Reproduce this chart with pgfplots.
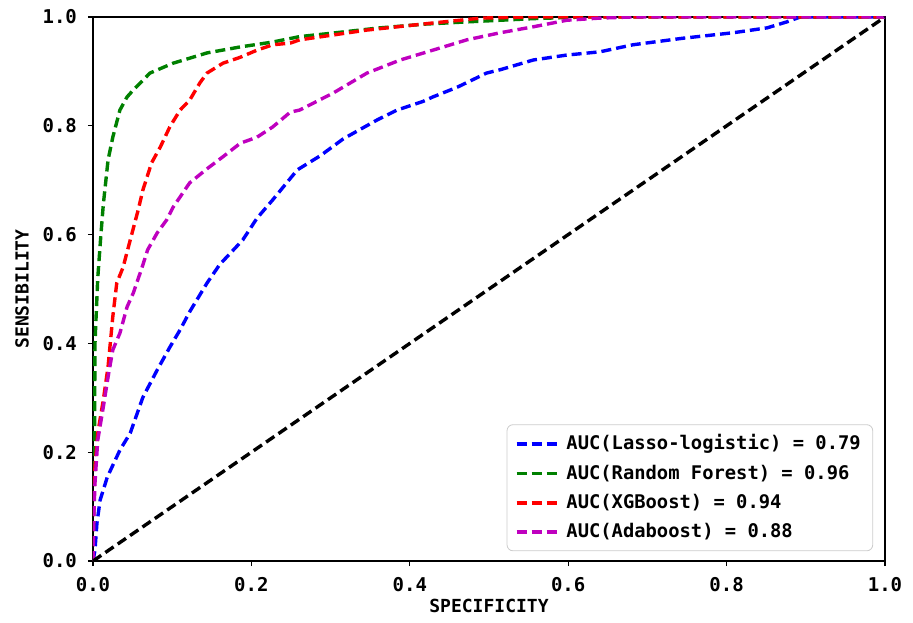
\documentclass[border=0pt]{standalone}
\usepackage{fontspec}
\setmainfont{DejaVu Sans Mono}
\usepackage{pgfplots}
\pgfplotsset{compat=1.18}
\usetikzlibrary{calc}

\definecolor{mplblue}{RGB}{0,0,255}
\definecolor{mplgreen}{RGB}{0,128,0}
\definecolor{mplred}{RGB}{255,0,0}
\definecolor{mplmag}{RGB}{191,0,191}

\begin{document}
\begin{tikzpicture}
\begin{axis}[
    scale only axis,
    width=396pt, height=272pt,
    xmin=0, xmax=1, ymin=0, ymax=1,
    axis line style={line width=0.75pt},
    xtick={0,0.2,0.4,0.6,0.8,1},
    ytick={0,0.2,0.4,0.6,0.8,1},
    xticklabels={0.0,0.2,0.4,0.6,0.8,1.0},
    yticklabels={0.0,0.2,0.4,0.6,0.8,1.0},
    tick align=outside,
    xtick pos=bottom, ytick pos=left,
    major tick length=2.5pt,
    tick style={line width=0.6pt, black},
    ticklabel style={font=\bfseries\fontsize{9.5}{11}\selectfont},
    xticklabel style={yshift=-2pt},
    yticklabel style={xshift=-2pt},
    xlabel={SPECIFICITY},
    ylabel={SENSIBILITY},
    xlabel style={at={(axis description cs:0.5,-0.0827)}, anchor=center, font=\bfseries\fontsize{9}{10}\selectfont},
    ylabel style={at={(axis description cs:-0.0896,0.5)}, anchor=center, rotate=0, font=\bfseries\fontsize{9}{10}\selectfont},
    legend style={at={(0.985,0.018)}, anchor=south east, draw=black!20, rounded corners=3pt,
        font=\bfseries\fontsize{9.4}{10}\selectfont, row sep=2pt, inner xsep=4pt, inner ysep=3pt},
    legend cell align=left,
    legend image code/.code={\draw[#1] (0pt,0pt) -- (22pt,0pt);},
    every axis plot/.append style={line width=1.7pt, dash pattern=on 5pt off 2.5pt},
]
\addplot[mplblue] coordinates {
(0,0)(0.0025,0.02)(0.005,0.07)(0.009,0.112)(0.018,0.154)(0.034,0.204)(0.047,0.235)
(0.063,0.301)(0.081,0.351)(0.097,0.393)(0.110,0.425)(0.122,0.458)(0.144,0.511)
(0.160,0.545)(0.189,0.590)(0.207,0.630)(0.227,0.664)(0.258,0.719)(0.287,0.745)
(0.316,0.776)(0.359,0.811)(0.384,0.829)(0.417,0.845)(0.429,0.853)(0.460,0.871)
(0.497,0.897)(0.514,0.903)(0.556,0.921)(0.598,0.930)(0.640,0.936)(0.682,0.949)
(0.745,0.961)(0.808,0.971)(0.851,0.980)(0.876,0.991)(0.893,1.0)(1,1)};
\addlegendentry{AUC(Lasso-logistic) = 0.79}
\addplot[mplgreen] coordinates {
(0,0)(0.001,0.12)(0.002,0.25)(0.0025,0.40)(0.006,0.52)(0.010,0.60)(0.013,0.655)
(0.019,0.737)(0.025,0.779)(0.034,0.829)(0.043,0.853)(0.051,0.866)(0.072,0.897)
(0.101,0.915)(0.144,0.934)(0.186,0.945)(0.227,0.954)(0.261,0.964)(0.300,0.970)
(0.362,0.980)(0.420,0.987)(0.472,0.991)(0.514,0.994)(0.556,0.997)(0.62,1.0)(1,1)};
\addlegendentry{AUC(Random Forest) = 0.96}
\addplot[mplred] coordinates {
(0,0)(0.001,0.10)(0.0025,0.173)(0.006,0.235)(0.013,0.296)(0.019,0.357)(0.025,0.449)
(0.030,0.511)(0.038,0.540)(0.047,0.590)(0.057,0.645)(0.063,0.682)(0.074,0.732)
(0.085,0.761)(0.097,0.798)(0.110,0.829)(0.122,0.847)(0.135,0.879)(0.144,0.897)
(0.164,0.915)(0.186,0.926)(0.207,0.939)(0.227,0.949)(0.249,0.952)(0.261,0.958)
(0.346,0.976)(0.429,0.989)(0.49,0.998)(0.55,1.0)(1,1)};
\addlegendentry{AUC(XGBoost) = 0.94}
\addplot[mplmag] coordinates {
(0,0)(0.001,0.08)(0.0025,0.143)(0.006,0.222)(0.013,0.283)(0.019,0.338)(0.025,0.388)
(0.034,0.419)(0.043,0.467)(0.051,0.493)(0.062,0.540)(0.069,0.572)(0.081,0.603)
(0.093,0.627)(0.101,0.650)(0.122,0.695)(0.144,0.721)(0.164,0.743)(0.186,0.768)
(0.207,0.779)(0.227,0.798)(0.249,0.825)(0.261,0.829)(0.303,0.860)(0.346,0.897)
(0.388,0.921)(0.429,0.939)(0.472,0.958)(0.514,0.971)(0.556,0.982)(0.598,0.994)
(0.640,0.998)(0.68,1.0)(1,1)};
\addlegendentry{AUC(Adaboost) = 0.88}
\addplot[black, forget plot] coordinates {(0,0)(1,1)};
\end{axis}
\pgfresetboundingbox
\path ($(current axis.south west)+(-46.5pt,-30.5pt)$) rectangle ($(current axis.north east)+(14pt,8.5pt)$);
\end{tikzpicture}
\end{document}
